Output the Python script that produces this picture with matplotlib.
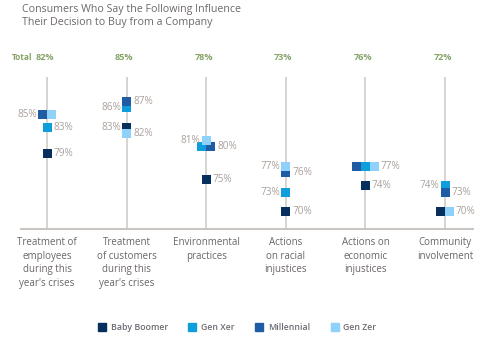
import numpy as np
import matplotlib
matplotlib.use("Agg")
import matplotlib.pyplot as plt
from matplotlib.lines import Line2D

plt.rcParams['font.family'] = ['Open Sans', 'DejaVu Sans']

# Survey results (percent)
categories = ["Treatment of\nemployees\nduring this\nyear's crises",
              "Treatment\nof customers\nduring this\nyear's crises",
              "Environmental\npractices",
              "Actions\non racial\ninjustices",
              "Actions on\neconomic\ninjustices",
              "Community\ninvolvement"]
totals = [82, 85, 78, 73, 76, 72]
series = ["Baby Boomer", "Gen Xer", "Millennial", "Gen Zer"]
baby_boomer = [79, 83, 75, 70, 74, 70]
gen_xer = [83, 86, 80, 73, 77, 74]
millennial = [85, 87, 80, 76, 77, 73]
gen_zer = [85, 82, 81, 77, 77, 70]
values = [baby_boomer, gen_xer, millennial, gen_zer]

colors = ["#062f5e", "#0d9edb", "#1f5ca3", "#8ed1fa"]

# horizontal shift of each square (in square widths) so equal values sit side by side
shifts = [[0, 0, -0.5, 0.5],
          [0, 0, 0, 0],
          [0, -0.5, 0.5, 0],
          [0, 0, 0, 0],
          [0, 0, -1, 1],
          [-0.5, 0, 0, 0.5]]
# where the value label goes: 'r' right, 'l' left, None no label
sides = [['r', 'r', 'l', None],
         ['l', 'l', 'r', 'r'],
         ['r', None, 'r', 'l'],
         ['r', 'l', 'r', 'l'],
         ['r', None, None, 'r'],
         [None, 'l', 'r', 'r']]

W, H = 483, 342
fig = plt.figure(figsize=(W / 100, H / 100), dpi=100)
ax = fig.add_axes([0, 0, 1, 1])
ax.set_xlim(-0.5905, 5.477)
ax.set_ylim(50, 102.615)
ax.axis("off")

sq_w = 9 / 79.6
sq_h = 9 / 6.5
x = np.arange(len(categories))

# stems and baseline
ax.vlines(x, 67.385, 90.77, color="#d6d0cc", lw=1.3, zorder=1)
ax.hlines(67.385, -0.339, 5.364, color="#cbc5c1", lw=1.5, zorder=1)

for j, name in enumerate(series):
    for i in range(len(categories)):
        v = values[j][i]
        cx = x[i] + shifts[i][j] * sq_w
        ax.bar(cx, sq_h, bottom=v - sq_h / 2, width=sq_w, color=colors[j],
               linewidth=0, zorder=2 + j)
        side = sides[i][j]
        if side is None:
            continue
        # put the label beyond the outermost square at that value
        same = [shifts[i][k] for k in range(len(series)) if values[k][i] == v]
        if side == 'r':
            ax.annotate("%d%%" % v, (x[i] + (max(same) + 0.5) * sq_w, v),
                        xytext=(1.4, 0), textcoords="offset points",
                        ha="left", va="center", fontsize=7.2, color="#a9a19c")
        else:
            ax.annotate("%d%%" % v, (x[i] + (min(same) - 0.5) * sq_w, v),
                        xytext=(-0.8, 0), textcoords="offset points",
                        ha="right", va="center", fontsize=7.2, color="#a9a19c")

# totals row
ax.text(-0.44, 93.74, "Total", ha="left", va="center", fontsize=6.0,
        color="#86a468", fontweight="bold")
for i, t in enumerate(totals):
    ax.text(x[i] - 0.03, 93.74, "%d%%" % t, ha="center", va="center",
            fontsize=6.6, color="#86a468", fontweight="bold")

for i, c in enumerate(categories):
    ax.text(x[i], 66.2, c, ha="center", va="top", fontsize=7,
            color="#6b6566", linespacing=1.36)

fig.text(22 / W, 1 - 4 / H,
         "Consumers Who Say the Following Influence\nTheir Decision to Buy from a Company",
         ha="left", va="top", fontsize=7.7, color="#6e6868", linespacing=1.25)

handles = [Line2D([], [], marker="s", ls="", color=colors[j], markersize=6)
           for j in range(len(series))]
fig.legend(handles, series, loc="center", bbox_to_anchor=(237 / W, 1 - 328 / H),
           ncol=4, frameon=False, fontsize=6.3, handletextpad=0.5,
           columnspacing=2.3, handlelength=1.0, labelcolor="#6d6a72",
           prop={"weight": "semibold", "size": 6.3})

fig.savefig("out.png", dpi=100, facecolor="white")
